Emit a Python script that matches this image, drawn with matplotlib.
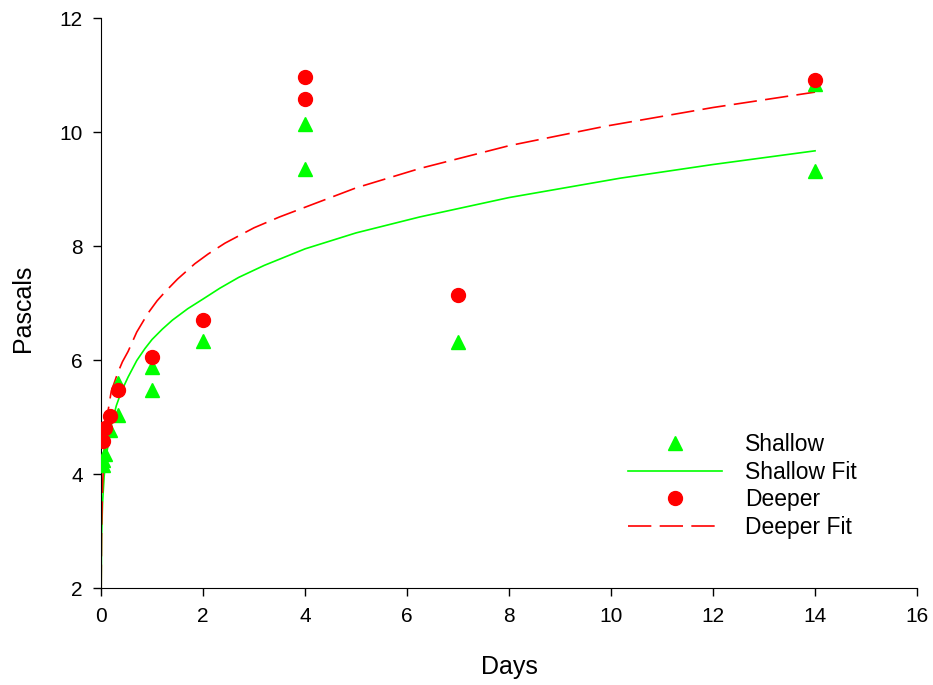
import matplotlib
matplotlib.use('Agg')
import matplotlib.pyplot as plt

plt.rcParams['font.family'] = ['Liberation Sans', 'DejaVu Sans']

# measured points (days, pascals)
shallow_x = [0.042, 0.042, 0.083, 0.167, 0.333, 0.333, 1, 1, 2, 4, 4, 7, 14, 14]
shallow_y = [4.15, 4.25, 4.35, 4.77, 5.6, 5.03, 5.88, 5.47, 6.33, 10.14, 9.35, 6.32, 10.84, 9.32]

deeper_x = [0.042, 0.083, 0.167, 0.333, 1, 2, 4, 4, 7, 14]
deeper_y = [4.58, 4.8, 5.02, 5.48, 6.05, 6.70, 10.96, 10.58, 7.14, 10.91]

# fit curves
shallow_fit_x = [0.003, 0.01, 0.03, 0.06, 0.1, 0.2, 0.3, 0.4, 0.53, 0.7, 0.86, 1.0,
                 1.2, 1.4, 1.7, 2.0, 2.33, 2.7, 3.2, 4, 5, 6.25, 8, 10.18, 12, 14]
shallow_fit_y = [2.0, 2.9, 3.5, 3.95, 4.3, 4.85, 5.2, 5.45, 5.70, 5.99, 6.2, 6.36,
                 6.54, 6.70, 6.90, 7.07, 7.26, 7.45, 7.66, 7.95, 8.23, 8.51, 8.85, 9.19, 9.43, 9.67]

deeper_fit_x = [0.003, 0.01, 0.03, 0.06, 0.1, 0.2, 0.33, 0.42, 0.53, 0.7, 0.92, 1.1,
                1.25, 1.5, 1.84, 2.1, 2.43, 3.0, 3.5, 4, 5, 6.25, 8, 9.88, 12, 14]
deeper_fit_y = [2.0, 3.0, 3.8, 4.4, 4.9, 5.45, 5.78, 5.97, 6.15, 6.49, 6.82, 7.04,
                7.19, 7.42, 7.69, 7.86, 8.05, 8.32, 8.51, 8.68, 9.02, 9.36, 9.76, 10.1, 10.43, 10.70]

fig = plt.figure(figsize=(9.33, 6.85), dpi=100)
ax = fig.add_axes([0.1083, 0.1416, 0.8746, 0.8321])

ax.plot(shallow_x, shallow_y, linestyle='none', marker='^', color='#00ff00',
        markersize=10, label='Shallow', zorder=3)
ax.plot(shallow_fit_x, shallow_fit_y, color='#00ff00', lw=1.2, label='Shallow Fit')
ax.plot(deeper_x, deeper_y, linestyle='none', marker='o', color='#ff0000',
        markersize=10, label='Deeper', zorder=3)
ax.plot(deeper_fit_x, deeper_fit_y, color='#ff0000', lw=1.2, linestyle=(0, (14, 5)),
        label='Deeper Fit')

ax.set_xlim(0, 16)
ax.set_ylim(2, 12)
ax.set_xticks(range(0, 17, 2))
ax.set_yticks(range(2, 13, 2))
ax.spines['top'].set_visible(False)
ax.spines['right'].set_visible(False)
ax.tick_params(direction='out', length=6, width=1, labelsize=15)
ax.tick_params(axis='x', pad=8)
ax.tick_params(axis='y', pad=7)

ax.set_xlabel('Days', fontsize=18, va='center')
ax.set_ylabel('Pascals', fontsize=18, va='center')
ax.xaxis.set_label_coords(0.5, -0.1386)
ax.yaxis.set_label_coords(-0.0956, 0.49)

ax.legend(loc='upper left', bbox_to_anchor=(0.646, 0.272), frameon=False,
          fontsize=16.5, handlelength=4.1, handletextpad=1.0, labelspacing=0.2,
          borderpad=0, borderaxespad=0)

fig.savefig('out.png', dpi=100)
